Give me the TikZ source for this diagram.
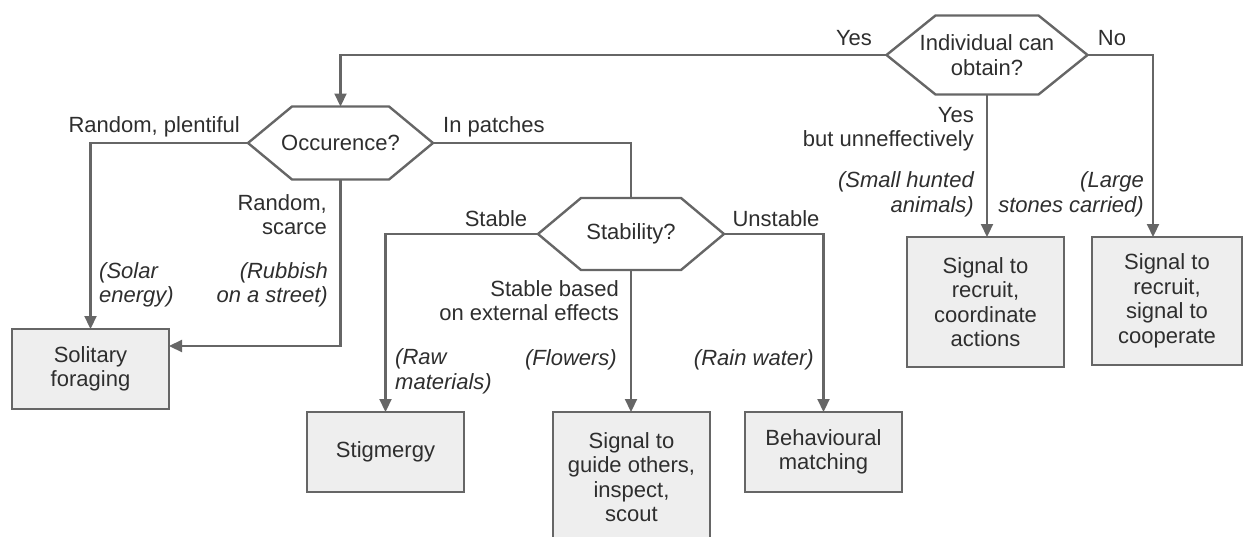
\documentclass[tikz,border=0pt]{standalone}
\usepackage{fontspec}
\setmainfont{Liberation Sans}
\usetikzlibrary{arrows.meta,calc}

\definecolor{linegray}{HTML}{666666}
\definecolor{boxgray}{HTML}{EEEEEE}
\definecolor{textgray}{HTML}{2E2E2E}

% hexagon outline round a decision node: #1 node name, #2 slant
\newcommand{\hexframe}[2]{%
  \draw[hexline] (#1.west) -- ($(#1.north west)+(#2,0)$) -- ($(#1.north east)-(#2,0)$)
    -- (#1.east) -- ($(#1.south east)-(#2,0)$) -- ($(#1.south west)+(#2,0)$) -- cycle;}

\begin{document}
\begin{tikzpicture}[x=1pt,y=-1pt,
    every node/.style={font=\fontsize{22}{24.5}\selectfont, text=textgray},
    box/.style={draw=linegray, fill=boxgray, line width=2.4pt, align=center,
                minimum width=157pt, minimum height=80pt, inner sep=0pt, outer sep=0pt},
    hexnode/.style={align=center, inner sep=0pt, outer sep=0pt},
    hexline/.style={draw=linegray, line width=2.4pt, line join=miter},
    conn/.style={draw=linegray, line width=2.2pt},
    arr/.style={conn, -{Triangle[length=13pt,width=12pt]}},
    lbl/.style={inner sep=0pt, align=right},
    note/.style={lbl, font=\fontsize{22}{24.5}\selectfont\itshape}]
  \useasboundingbox (0,0) rectangle (1243,536);

  % decisions
  \node[hexnode, minimum width=201pt, minimum height=79pt] (ind) at (987,55) {Individual can\\obtain?};
  \node[hexnode, minimum width=185pt, minimum height=73pt] (occ) at (340.5,143) {Occurence?};
  \node[hexnode, minimum width=186pt, minimum height=72pt] (stab) at (631,234) {Stability?};
  \hexframe{ind}{49}
  \hexframe{occ}{44}
  \hexframe{stab}{43}

  % outcomes
  \node[box] (sol) at (90.5,369) {Solitary\\foraging};
  \node[box] (stig) at (385.5,452) {Stigmergy};
  \node[box, minimum height=130pt] (guide) at (631.5,477) {Signal to\\guide others,\\inspect,\\scout};
  \node[box] (beh) at (823.5,452) {Behavioural\\matching};
  \node[box, minimum height=130pt] (rec) at (985.5,302) {Signal to\\recruit,\\coordinate\\actions};
  \node[box, minimum width=150pt, minimum height=128pt] (coop) at (1167,301) {Signal to\\recruit,\\signal to\\cooperate};

  % connectors
  \coordinate (occin) at (occ.north |- ind.west);
  \draw[arr] (ind.west) -- (occin) -- (occ.north);
  \coordinate (nobend) at (1153,55);
  \draw[arr] (ind.east) -- (nobend) -- (nobend |- coop.north);
  \draw[arr] (ind.south) -- (ind.south |- rec.north);
  \draw[arr] (occ.west) -| (sol.north);
  \coordinate (scarcebend) at (occ.south |- 0,346);
  \draw[arr] (occ.south) -- (scarcebend) -- (scarcebend -| sol.east);
  \draw[conn] (occ.east) -| (stab.north);
  \draw[arr] (stab.west) -| (stig.north);
  \draw[arr] (stab.south) -- (stab.south |- guide.north);
  \draw[arr] (stab.east) -| (beh.north);

  % branch labels
  \node[lbl] (yes) at (854,38) {Yes};
  \node[lbl] (no) at (1112,38) {No};
  \node[lbl, anchor=east] (plent) at (240,127) {Random, plentiful};
  \node[lbl, anchor=west] (patch) at (443,127) {In patches};
  \node[lbl, anchor=east] (scarce) at (327,214.5) {Random,\\scarce};
  \node[lbl] (stbl) at (496,219) {Stable};
  \node[lbl] (unst) at (776,219) {Unstable};
  \node[lbl, anchor=east] (ext) at (619,300.5) {Stable based\\on external effects};
  \node[lbl, anchor=east] (yesbut) at (974,129) {Yes\\but unneffectively};

  % examples
  \node[note, anchor=west, align=left] (solar) at (99,285) {(Solar\\energy)};
  \node[note, anchor=east] (rubb) at (328,285) {(Rubbish\\on a street)};
  \node[note, anchor=west, align=left] (raw) at (395,371.5) {(Raw\\materials)};
  \node[note, anchor=east] (flow) at (617,360) {(Flowers)};
  \node[note, anchor=east] (rain) at (814,360) {(Rain water)};
  \node[note, anchor=east] (hunt) at (974,194.5) {(Small hunted\\animals)};
  \node[note, anchor=east] (stone) at (1144,194.5) {(Large\\stones carried)};
\end{tikzpicture}
\end{document}
